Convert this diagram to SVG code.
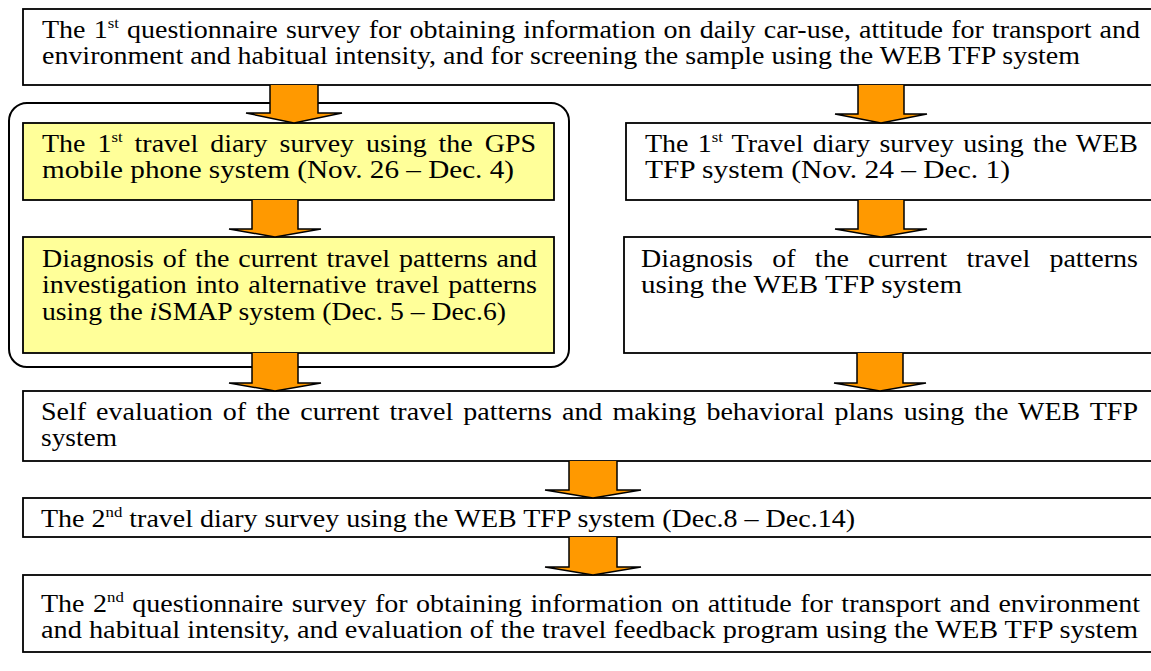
<svg xmlns="http://www.w3.org/2000/svg" width="1151" height="671" viewBox="0 0 1151 671">
<style>
.box{fill:#fff;stroke:#000;stroke-width:1.8}
.yel{fill:#ffff99;stroke:#000;stroke-width:1.8}
.grp{fill:none;stroke:#000;stroke-width:2}
.arr{fill:#ff9900;stroke:#000;stroke-width:1.5;stroke-linejoin:miter}
text{font-family:"Liberation Serif","Times New Roman",serif;font-size:25px;fill:#000}
.sup{font-size:15px}
</style>
<rect width="1151" height="671" fill="#fff"/>
<g id="group-gps"><rect class="grp" x="9" y="103" width="560" height="264" rx="18"/></g>
<g id="n1"><rect class="box" x="23" y="9" width="1140" height="76"/>
<text x="42" y="38" textLength="1098" lengthAdjust="spacingAndGlyphs" word-spacing="1">The 1<tspan class="sup" dy="-10">st</tspan><tspan dy="10"> questionnaire survey for obtaining information on daily car-use, attitude for transport and</tspan></text>
<text x="42" y="64" textLength="1038" lengthAdjust="spacingAndGlyphs">environment and habitual intensity, and for screening the sample using the WEB TFP system</text></g>
<g id="n2"><rect class="yel" x="23" y="123" width="531" height="77"/>
<text x="42" y="152" textLength="494" lengthAdjust="spacingAndGlyphs" word-spacing="4.5">The 1<tspan class="sup" dy="-10">st</tspan><tspan dy="10"> travel diary survey using the GPS</tspan></text>
<text x="42" y="178" textLength="472" lengthAdjust="spacingAndGlyphs">mobile phone system (Nov. 26 – Dec. 4)</text></g>
<g id="n3"><rect class="yel" x="23" y="237" width="531" height="116"/>
<text x="42" y="267" textLength="495" lengthAdjust="spacingAndGlyphs" word-spacing="1.75">Diagnosis of the current travel patterns and</text>
<text x="42" y="293" textLength="495" lengthAdjust="spacingAndGlyphs" word-spacing="1.8">investigation into alternative travel patterns</text>
<text x="42" y="320" textLength="464" lengthAdjust="spacingAndGlyphs">using the <tspan font-style="italic">i</tspan>SMAP system (Dec. 5 – Dec.6)</text></g>
<g id="n4"><rect class="box" x="626" y="123" width="540" height="77"/>
<text x="645" y="152" textLength="493" lengthAdjust="spacingAndGlyphs" word-spacing="2">The 1<tspan class="sup" dy="-10">st</tspan><tspan dy="10"> Travel diary survey using the WEB</tspan></text>
<text x="645" y="178" textLength="365" lengthAdjust="spacingAndGlyphs">TFP system (Nov. 24 – Dec. 1)</text></g>
<g id="n5"><rect class="box" x="624" y="237" width="540" height="116"/>
<text x="641" y="267" textLength="497" lengthAdjust="spacingAndGlyphs" word-spacing="10.9">Diagnosis of the current travel patterns</text>
<text x="641" y="293" textLength="321" lengthAdjust="spacingAndGlyphs">using the WEB TFP system</text></g>
<g id="n6"><rect class="box" x="23" y="391" width="1140" height="70"/>
<text x="41" y="420" textLength="1097" lengthAdjust="spacingAndGlyphs" word-spacing="2.7">Self evaluation of the current travel patterns and making behavioral plans using the WEB TFP</text>
<text x="41" y="446" textLength="76" lengthAdjust="spacingAndGlyphs">system</text></g>
<g id="n7"><rect class="box" x="23" y="498" width="1140" height="39"/>
<text x="41" y="527" textLength="814" lengthAdjust="spacingAndGlyphs">The 2<tspan class="sup" dy="-10">nd</tspan><tspan dy="10"> travel diary survey using the WEB TFP system (Dec.8 – Dec.14)</tspan></text></g>
<g id="n8"><rect class="box" x="23" y="575" width="1140" height="77"/>
<text x="41" y="612" textLength="1099" lengthAdjust="spacingAndGlyphs" word-spacing="1.33">The 2<tspan class="sup" dy="-10">nd</tspan><tspan dy="10"> questionnaire survey for obtaining information on attitude for transport and environment</tspan></text>
<text x="41" y="638" textLength="1097" lengthAdjust="spacingAndGlyphs">and habitual intensity, and evaluation of the travel feedback program using the WEB TFP system</text></g>
<g id="connectors">
<path class="arr" d="M270,85 V113 H246 L294,123 L342,113 H318 V85"/>
<path class="arr" d="M858,85 V114 H835 L881,123 L927,114 H904 V85"/>
<path class="arr" d="M252,200 V229 H229 L275,237 L321,229 H298 V200"/>
<path class="arr" d="M858,200 V229 H835 L881,237 L927,229 H904 V200"/>
<path class="arr" d="M252,353 V383 H229 L275,391 L321,383 H298 V353"/>
<path class="arr" d="M857,353 V383 H834 L880,391 L926,383 H903 V353"/>
<path class="arr" d="M569,461 V490 H545 L593,498 L641,490 H617 V461"/>
<path class="arr" d="M569,537 V567 H545 L593,575 L641,567 H617 V537"/>
</g>
</svg>
